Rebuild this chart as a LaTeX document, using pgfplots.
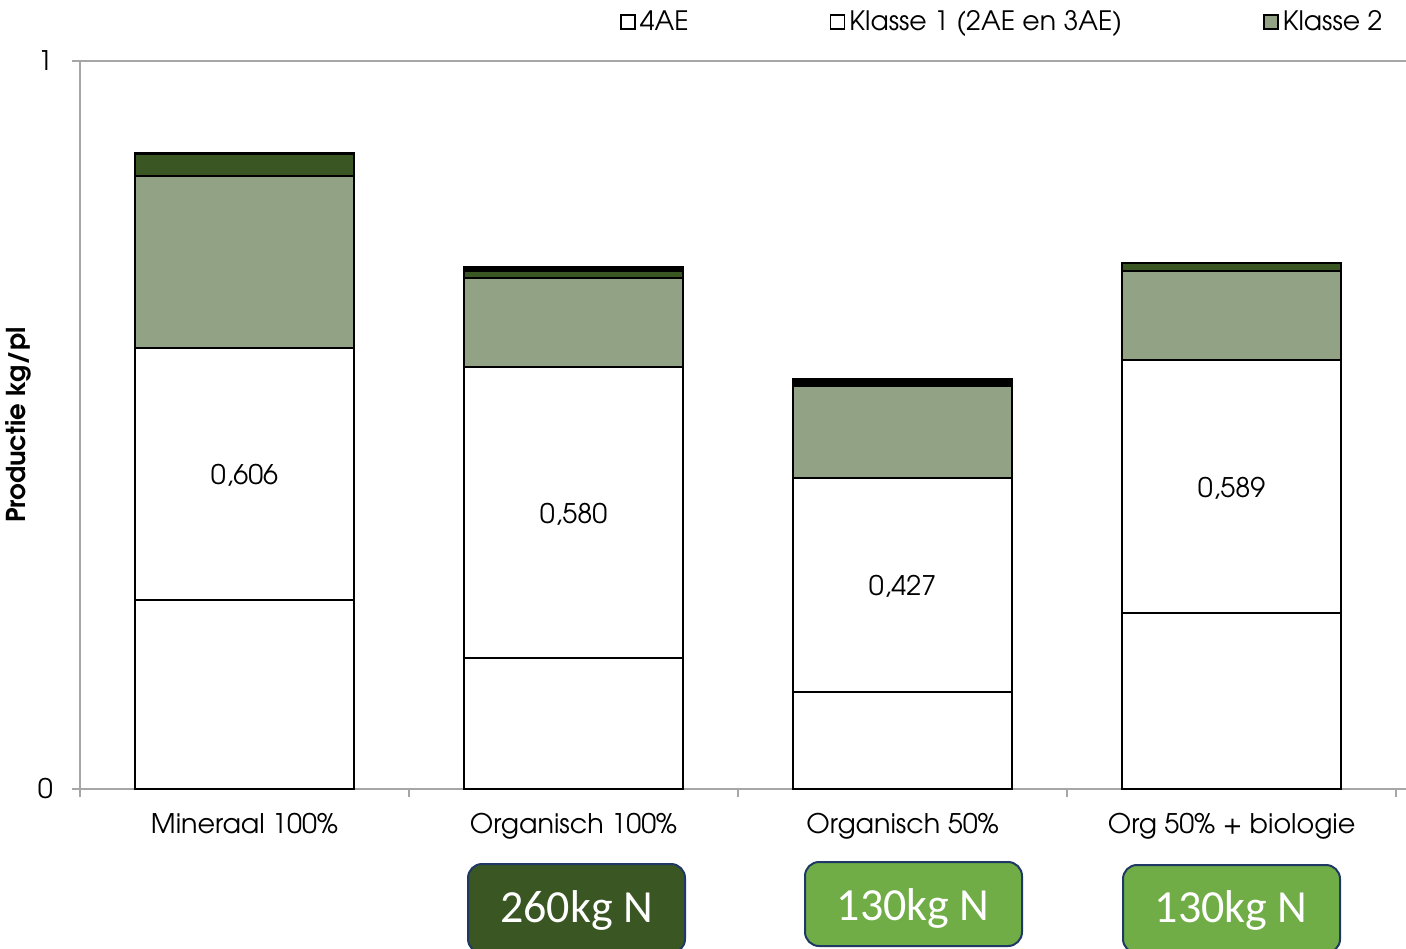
\documentclass[border=0pt]{standalone}
\usepackage{pgfplots}
\pgfplotsset{compat=1.18}
\usepackage{fontspec}
\setmainfont{TeX Gyre Adventor}
\newfontfamily\calfont{Carlito}
\definecolor{lgreen}{HTML}{92A385}
\definecolor{dgreen}{HTML}{3A5623}
\definecolor{bgreen}{HTML}{70AD47}
\definecolor{navy}{HTML}{1F3864}
\definecolor{axgray}{HTML}{A6A6A6}
\begin{document}
\begin{tikzpicture}
\begin{axis}[
  at={(0pt,0pt)}, anchor=south west,
  scale only axis, width=663pt, height=364pt,
  ymin=0, ymax=1, xmin=-0.5, xmax=3.53,
  ybar stacked, bar width=0.666,
  axis x line*=bottom, axis y line*=left,
  x axis line style={-, draw=axgray, line width=1pt},
  y axis line style={-, draw=axgray, line width=1pt},
  ytick={0,1}, yticklabels={0,1},
  ymajorgrids, grid style={draw=axgray, line width=1pt},
  tick style={draw=axgray, line width=1pt},
  tick align=outside, major tick length=4pt,
  xtick={-0.5,0.5,1.5,2.5,3.5},
  x tick label as interval,
  xticklabels={Mineraal 100\%, Organisch 100\%, Organisch 50\%, Org 50\% + biologie},
  ticklabel style={font=\fontsize{13.5}{15}\selectfont, text=black},
  yticklabel style={xshift=-6pt},
  xticklabel style={yshift=-4.5pt},
  ylabel={\bfseries Productie kg/pl},
  ylabel style={at={(axis description cs:-0.0468,0.5)}, anchor=center, font=\fontsize{13}{15}\selectfont},
  legend columns=3,
  legend style={at={(axis description cs:0.4072,1.0536)}, anchor=west, draw=none, fill=none,
    inner sep=0pt, font=\fontsize{13.35}{15}\selectfont,
    /tikz/every even column/.append style={column sep=68.5pt}},
  legend image code/.code={\draw[#1, draw=black, line width=0.8pt] (0pt,-3.5pt) rectangle (7pt,3.5pt);},
  clip=false,
]
\addplot[fill=white, draw=black, line width=1pt] coordinates {(0,0.260) (1,0.180) (2,0.133) (3,0.242)};
\addlegendentry{4AE}
\addplot[fill=white, draw=black, line width=1pt] coordinates {(0,0.346) (1,0.400) (2,0.294) (3,0.347)};
\addlegendentry{Klasse 1 (2AE en 3AE)}
\addplot[fill=lgreen, draw=black, line width=1pt] coordinates {(0,0.236) (1,0.122) (2,0.127) (3,0.123)};
\addlegendentry{Klasse 2}
\addplot[fill=dgreen, draw=black, line width=1pt, forget plot] coordinates {(0,0.030) (1,0.010) (2,0.003) (3,0.011)};
\addplot[fill=black, draw=black, line width=1pt, forget plot] coordinates {(0,0.002) (1,0.005) (2,0.006) (3,0.000)};
\coordinate (l0) at (axis cs:0,0.431);
\coordinate (l1) at (axis cs:1,0.378);
\coordinate (l2) at (axis cs:2,0.278);
\coordinate (l3) at (axis cs:3,0.4135);
\end{axis}
\node[font=\fontsize{13.5}{15}\selectfont] at (l0) {0,606};
\node[font=\fontsize{13.5}{15}\selectfont] at (l1) {0,580};
\node[font=\fontsize{13.5}{15}\selectfont] at (l2) {0,427};
\node[font=\fontsize{13.5}{15}\selectfont] at (l3) {0,589};
\draw[navy, line width=1pt, fill=dgreen, rounded corners=7pt] (194pt,-37.5pt) rectangle (302.5pt,-82pt);
\draw[navy, line width=1pt, fill=bgreen, rounded corners=7pt] (362.5pt,-36.5pt) rectangle (471pt,-78.5pt);
\draw[navy, line width=1pt, fill=bgreen, rounded corners=7pt] (521.5pt,-38pt) rectangle (630pt,-82pt);
\node[text=white, font=\calfont\fontsize{23}{26}\selectfont] at (248.25pt,-60.5pt) {260kg N};
\node[text=white, font=\calfont\fontsize{23}{26}\selectfont] at (416.5pt,-59.5pt) {130kg N};
\node[text=white, font=\calfont\fontsize{23}{26}\selectfont] at (575.5pt,-60.5pt) {130kg N};
\pgfresetboundingbox
\path[use as bounding box] (-40pt,-79.5pt) rectangle (663pt,394.5pt);
\end{tikzpicture}
\end{document}
